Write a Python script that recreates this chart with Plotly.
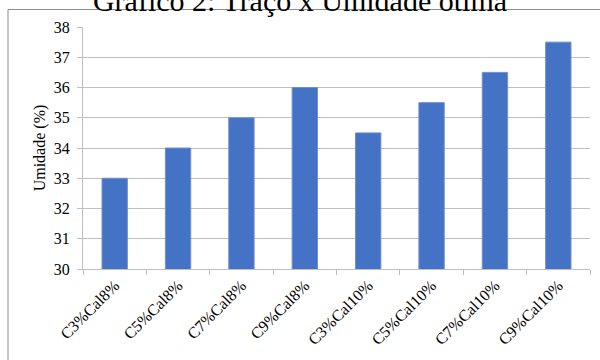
import plotly.graph_objects as go

categories = ["C3%Cal8%", "C5%Cal8%", "C7%Cal8%", "C9%Cal8%",
              "C3%Cal10%", "C5%Cal10%", "C7%Cal10%", "C9%Cal10%"]
umidade = [33, 34, 35, 36, 34.5, 35.5, 36.5, 37.5]
y_ticks = [30, 31, 32, 33, 34, 35, 36, 37, 38]

title_text = "Gráfico 2: Traço x Umidade ótima"
y_title = "Umidade (%)"

FONT = "Liberation Serif, Times New Roman, serif"
GRID = "#bfbfbf"

fig = go.Figure(
    go.Bar(
        x=categories,
        y=umidade,
        marker=dict(color="#4472C4", line=dict(color="#6f8fd3", width=1)),
        width=0.4,
    )
)

W, H = 600, 360
ml, mr, mt, mb = 83, 10, 27, 91
pw, ph = W - ml - mr, H - mt - mb

fig.update_layout(
    width=W,
    height=H,
    margin=dict(l=ml, r=mr, t=mt, b=mb, pad=0),
    paper_bgcolor="white",
    plot_bgcolor="white",
    showlegend=False,
    font=dict(family=FONT, color="#000000", size=16),
    title=dict(
        text=title_text,
        x=0.5, xanchor="center",
        y=0.999, yanchor="middle",
        xref="container", yref="container",
        font=dict(family=FONT, size=30, color="#000000"),
    ),
    xaxis=dict(
        type="category",
        tickson="boundaries",
        ticks="outside",
        ticklen=5,
        tickcolor=GRID,
        tickwidth=1,
        showline=True,
        linecolor=GRID,
        linewidth=1,
        showgrid=False,
        tickangle=-45,
        tickfont=dict(family=FONT, size=16, color="#000000"),
    ),
    yaxis=dict(
        range=[30, 38],
        tickvals=y_ticks,
        ticks="outside",
        ticklen=5,
        tickcolor=GRID,
        showline=True,
        linecolor=GRID,
        showgrid=True,
        gridcolor=GRID,
        gridwidth=1,
        zeroline=False,
        tickfont=dict(family=FONT, size=16, color="#000000"),
        ticklabelstandoff=4,
        title=dict(text=y_title, font=dict(family=FONT, size=16, color="#000000"),
                   standoff=4),
    ),
    shapes=[
        dict(
            type="rect", xref="paper", yref="paper",
            x0=(8 - ml) / pw, x1=1 + 40 / pw,
            y0=-120 / ph, y1=1 + (mt - 9.5) / ph,
            line=dict(color="#8c8c8c", width=1),
            layer="below",
        )
    ],
)

fig.write_html("out.html")
